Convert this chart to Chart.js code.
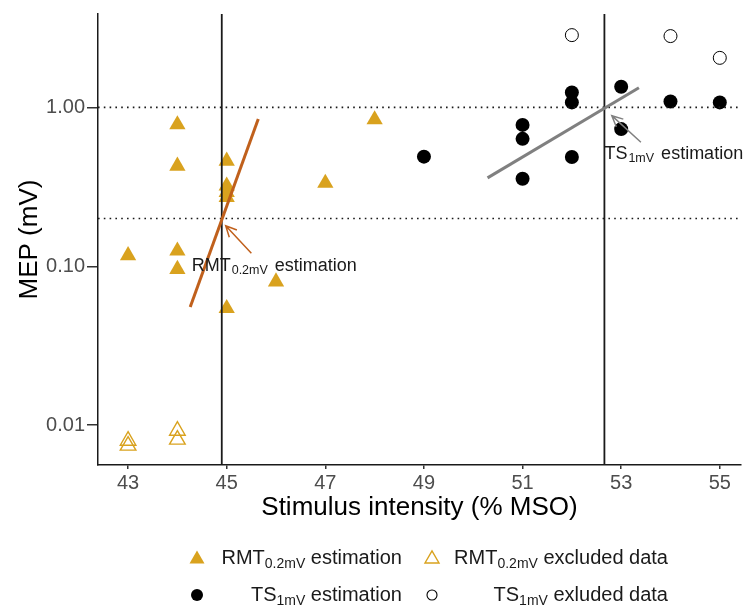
<!DOCTYPE html>
<html>
<head>
<meta charset="utf-8">
<script src="https://cdn.jsdelivr.net/npm/chart.js@4.4.1/dist/chart.umd.min.js"></script>
<style>
  body { margin: 0; background: #fff; }
  #wrap { position: relative; width: 743px; height: 606px; font-family: "Liberation Sans", Arial, sans-serif; }
  .lg { position: absolute; height: 24px; line-height: 24px; font-size: 20px; color: #1a1a1a; white-space: nowrap; text-align: right; }
  .lg sub { font-size: 14px; vertical-align: -4px; line-height: 0; }
  .sym { position: absolute; width: 20px; height: 20px; }
</style>
</head>
<body>
<div id="wrap">
  <canvas id="mepChart" width="743" height="606"></canvas>

  <!-- legend (labels are right aligned in their columns, like the original) -->
  <svg class="sym" style="left:187px;top:547px" viewBox="0 0 20 20"><polygon points="2.5,16.5 17.5,16.5 10,3.5" fill="#d9a21e"/></svg>
  <div class="lg" style="right:341px;top:545px">RMT<sub>0.2mV</sub> estimation</div>
  <svg class="sym" style="left:422px;top:547px" viewBox="0 0 20 20"><polygon points="3,16 17,16 10,4" fill="none" stroke="#d9a21e" stroke-width="1.4"/></svg>
  <div class="lg" style="right:75px;top:545px">RMT<sub>0.2mV</sub> excluded data</div>
  <svg class="sym" style="left:187px;top:585px" viewBox="0 0 20 20"><circle cx="10" cy="10" r="6" fill="#000"/></svg>
  <div class="lg" style="right:341px;top:582px">TS<sub>1mV</sub> estimation</div>
  <svg class="sym" style="left:422px;top:585px" viewBox="0 0 20 20"><circle cx="10" cy="10" r="5" fill="none" stroke="#000" stroke-width="1.1"/></svg>
  <div class="lg" style="right:75px;top:582px">TS<sub>1mV</sub> exluded data</div>
</div>

<script>
// axis limits and ticks
const xMin = 42.39, xMax = 55.43;
const yMin = 0.00562, yMax = 3.87;
const xTicks = [43, 45, 47, 49, 51, 53, 55];
const yTicks = [0.01, 0.1, 1];

// RMT (0.2 mV) data, triangles
const rmtX = [43, 44, 44, 44, 44, 45, 45, 45, 45, 45, 46, 47, 48];
const rmtY = [0.117, 0.78, 0.428, 0.125, 0.0958, 0.46, 0.321, 0.292, 0.272, 0.0544, 0.08, 0.334, 0.838];
const rmtExclX = [43, 43, 44, 44];
const rmtExclY = [0.00799, 0.00744, 0.00924, 0.00812];

// TS (1 mV) data, circles
const tsX = [49, 51, 51, 51, 52, 52, 52, 53, 53, 54, 55];
const tsY = [0.49, 0.776, 0.634, 0.356, 1.24, 1.075, 0.487, 1.35, 0.73, 1.09, 1.075];
const tsExclX = [52, 54, 55];
const tsExclY = [2.85, 2.81, 2.05];

// regression segments
const rmtFitX = [44.26, 45.64];
const rmtFitY = [0.0554, 0.845];
const tsFitX = [50.29, 53.36];
const tsFitY = [0.36, 1.33];

// thresholds / reference levels
const rmtThreshold = 44.9;
const tsThreshold = 52.66;
const refLevels = [0.2, 1.0];

// annotations (data coords)
const rmtArrowX = [45.5, 44.98], rmtArrowY = [0.121, 0.18];
const tsArrowX = [53.4, 52.81], tsArrowY = [0.604, 0.887];
const rmtLabelAt = [44.29, 0.0937];
const tsLabelAt = [52.66, 0.475];

const FONT = '"Liberation Sans", Arial, sans-serif';
const GOLD = '#d9a21e';
const RUST = '#c0601c';
const GREY = '#808080';

const toPoints = (xs, ys) => xs.map((x, i) => ({ x: x, y: ys[i] }));

function lineSet(points, color, width, dash) {
    return {
        data: points,
        showLine: true,
        borderColor: color,
        borderWidth: width,
        borderDash: dash || [],
        pointRadius: 0,
        fill: false,
    };
}

function drawArrow(ctx, xs, ys, ax, ay, color) {
    const x0 = xs.getPixelForValue(ax[0]), y0 = ys.getPixelForValue(ay[0]);
    const x1 = xs.getPixelForValue(ax[1]), y1 = ys.getPixelForValue(ay[1]);
    const a = Math.atan2(y1 - y0, x1 - x0);
    const len = 12, spread = 0.45;
    ctx.save();
    ctx.strokeStyle = color;
    ctx.lineWidth = 1.5;
    ctx.beginPath();
    ctx.moveTo(x0, y0);
    ctx.lineTo(x1, y1);
    ctx.moveTo(x1 - len * Math.cos(a - spread), y1 - len * Math.sin(a - spread));
    ctx.lineTo(x1, y1);
    ctx.lineTo(x1 - len * Math.cos(a + spread), y1 - len * Math.sin(a + spread));
    ctx.stroke();
    ctx.restore();
}

function drawLabel(ctx, px, py, main, sub, rest) {
    ctx.save();
    ctx.fillStyle = '#1a1a1a';
    ctx.textBaseline = 'alphabetic';
    ctx.textAlign = 'left';
    ctx.font = '18px ' + FONT;
    ctx.fillText(main, px, py);
    let cx = px + ctx.measureText(main).width + 1;
    ctx.font = '12.5px ' + FONT;
    ctx.fillText(sub, cx, py + 3.5);
    cx += ctx.measureText(sub).width + 2;
    ctx.font = '18px ' + FONT;
    ctx.fillText(rest, cx, py);
    ctx.restore();
}

const annotate = {
    id: 'annotate',
    afterDatasetsDraw(chart) {
        const { ctx, scales } = chart;
        drawArrow(ctx, scales.x, scales.y, rmtArrowX, rmtArrowY, RUST);
        drawArrow(ctx, scales.x, scales.y, tsArrowX, tsArrowY, GREY);
        drawLabel(ctx, scales.x.getPixelForValue(rmtLabelAt[0]), scales.y.getPixelForValue(rmtLabelAt[1]), 'RMT', '0.2mV', ' estimation');
        drawLabel(ctx, scales.x.getPixelForValue(tsLabelAt[0]), scales.y.getPixelForValue(tsLabelAt[1]), 'TS', '1mV', ' estimation');
    },
};

// first datasets are drawn on top
const datasets = [
    lineSet(toPoints(rmtFitX, rmtFitY), RUST, 3),
    lineSet(toPoints(tsFitX, tsFitY), GREY, 3),
    lineSet(toPoints([rmtThreshold, rmtThreshold], [yMin, yMax]), '#1a1a1a', 1.8),
    lineSet(toPoints([tsThreshold, tsThreshold], [yMin, yMax]), '#1a1a1a', 1.8),
    ...refLevels.map((lv) => lineSet(toPoints([xMin, xMax], [lv, lv]), '#1a1a1a', 1.6, [1.6, 4.2])),
    {
        data: toPoints(tsExclX, tsExclY),
        pointStyle: 'circle',
        pointRadius: 6.5,
        backgroundColor: '#fff',
        borderColor: '#000',
        borderWidth: 1,
    },
    {
        data: toPoints(tsX, tsY),
        pointStyle: 'circle',
        pointRadius: 7,
        backgroundColor: '#000',
        borderWidth: 0,
    },
    {
        data: toPoints(rmtExclX, rmtExclY),
        pointStyle: 'triangle',
        pointRadius: 9,
        backgroundColor: 'rgba(0,0,0,0)',
        borderColor: GOLD,
        borderWidth: 1.4,
    },
    {
        data: toPoints(rmtX, rmtY),
        pointStyle: 'triangle',
        pointRadius: 9.4,
        backgroundColor: GOLD,
        borderWidth: 0,
    },
];

new Chart(document.getElementById('mepChart'), {
    type: 'scatter',
    data: { datasets: datasets },
    plugins: [annotate],
    options: {
        responsive: false,
        animation: false,
        // autoPadding would reserve room for the point radius on the right
        layout: { autoPadding: false, padding: { top: 11, right: 2, left: 0, bottom: 0 } },
        plugins: { legend: { display: false }, tooltip: { enabled: false } },
        scales: {
            x: {
                type: 'linear',
                min: xMin,
                max: xMax,
                afterBuildTicks: (s) => { s.ticks = xTicks.map((v) => ({ value: v })); },
                afterFit: (s) => {
                    s.height = 141;
                    s.paddingLeft = 0;
                    s.paddingRight = 0;
                },
                ticks: { color: '#4d4d4d', font: { size: 20, family: FONT }, padding: 2, maxRotation: 0 },
                grid: { drawOnChartArea: false, drawTicks: true, tickLength: 4, color: '#333', lineWidth: 1.5 },
                border: { display: true, color: '#1a1a1a', width: 1.5 },
                title: {
                    display: true,
                    text: 'Stimulus intensity (% MSO)',
                    color: '#000',
                    font: { size: 26, family: FONT },
                    padding: { top: 0, bottom: 82.7 },
                },
            },
            y: {
                type: 'logarithmic',
                min: yMin,
                max: yMax,
                afterBuildTicks: (s) => { s.ticks = yTicks.map((v) => ({ value: v })); },
                afterFit: (s) => { s.width = 98; },
                ticks: {
                    color: '#4d4d4d',
                    font: { size: 20, family: FONT },
                    padding: 2,
                    callback: (v) => Number(v).toFixed(2),
                },
                grid: { drawOnChartArea: false, drawTicks: true, tickLength: 11, color: '#333', lineWidth: 1.5 },
                border: { display: true, color: '#1a1a1a', width: 1.5 },
                title: {
                    display: true,
                    text: 'MEP (mV)',
                    color: '#000',
                    font: { size: 26, family: FONT },
                    padding: { top: 14, bottom: 0 },
                },
            },
        },
    },
});
</script>
</body>
</html>
